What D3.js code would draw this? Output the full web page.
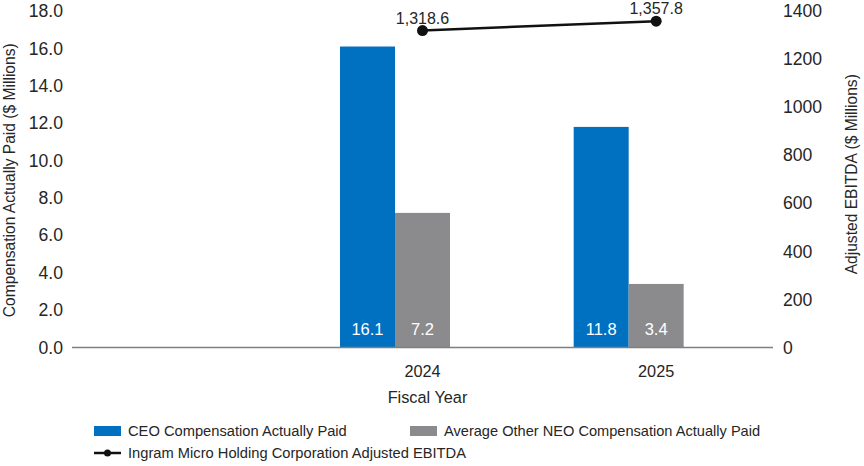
<!DOCTYPE html>
<html>
<head>
<meta charset="utf-8">
<script src="https://cdn.jsdelivr.net/npm/d3@7"></script>
<style>
  body { margin: 0; background: #fff; }
  text { font-family: "Liberation Sans", Arial, sans-serif; fill: #262626; }
</style>
</head>
<body>
<div id="chart"></div>
<script>
// data
const years = ["", "2024", "2025"]
const ceoPaid = [null, 16.1, 11.8]
const neoPaid = [null, 7.2, 3.4]
const ebitda = [null, 1318.6, 1357.8]
const leftTicks = [0, 2, 4, 6, 8, 10, 12, 14, 16, 18]
const rightTicks = [0, 200, 400, 600, 800, 1000, 1200, 1400]

const svgWidth = 864
const svgHeight = 466
const margin = { top: 11, left: 72, right: 91, bottom: 118.5 }
const width = svgWidth - margin.left - margin.right
const height = svgHeight - margin.top - margin.bottom

const blue = "#0070c0"
const grey = "#8b8b8d"

const svg = d3.select("#chart")
  .append("svg")
  .attr("width", svgWidth)
  .attr("height", svgHeight)

const chartGroup = svg.append("g")
  .attr("transform", `translate(${margin.left}, ${margin.top})`)

// x band per year, three slots inside (third slot is left empty like the original)
const xScale = d3.scaleBand()
  .domain(years)
  .range([0, width])
  .paddingInner(0.294)
  .paddingOuter(0.147)

const slot = d3.scaleBand()
  .domain(["ceo", "neo", "blank"])
  .range([0, xScale.bandwidth()])

const yLeft = d3.scaleLinear().domain([0, 18]).range([height, 0])
const yRight = d3.scaleLinear().domain([0, 1400]).range([height, 0])

const center = d => xScale(d) + xScale.bandwidth() / 2

// left axis labels
chartGroup.append("g")
  .selectAll("text")
  .data(leftTicks)
  .enter()
  .append("text")
  .attr("x", -9)
  .attr("y", d => yLeft(d))
  .attr("dy", "0.35em")
  .attr("text-anchor", "end")
  .style("font-size", "17.6px")
  .text(d => d3.format(".1f")(d))

// right axis labels
chartGroup.append("g")
  .selectAll("text")
  .data(rightTicks)
  .enter()
  .append("text")
  .attr("x", width + 10)
  .attr("y", d => yRight(d))
  .attr("dy", "0.35em")
  .attr("text-anchor", "start")
  .style("font-size", "17.6px")
  .text(d => d)

// bars
const rows = years.map((y, i) => ({ year: y, ceo: ceoPaid[i], neo: neoPaid[i] }))
  .filter(d => d.ceo !== null)

const groups = chartGroup.selectAll(".yr")
  .data(rows)
  .enter()
  .append("g")
  .attr("transform", d => `translate(${xScale(d.year)}, 0)`)

groups.append("rect")
  .attr("x", slot("ceo"))
  .attr("width", slot.bandwidth())
  .attr("y", d => yLeft(d.ceo))
  .attr("height", d => height - yLeft(d.ceo))
  .style("fill", blue)

groups.append("rect")
  .attr("x", slot("neo"))
  .attr("width", slot.bandwidth())
  .attr("y", d => yLeft(d.neo))
  .attr("height", d => height - yLeft(d.neo))
  .style("fill", grey)

groups.append("text")
  .attr("x", slot("ceo") + slot.bandwidth() / 2)
  .attr("y", height - 13)
  .attr("text-anchor", "middle")
  .style("font-size", "16.5px")
  .style("fill", "#fff")
  .text(d => d.ceo.toFixed(1))

groups.append("text")
  .attr("x", slot("neo") + slot.bandwidth() / 2)
  .attr("y", height - 13)
  .attr("text-anchor", "middle")
  .style("font-size", "16.5px")
  .style("fill", "#fff")
  .text(d => d.neo.toFixed(1))

// baseline
chartGroup.append("line")
  .attr("x1", 0)
  .attr("x2", width)
  .attr("y1", height)
  .attr("y2", height)
  .style("stroke", "#7f7f7f")
  .style("stroke-width", 1.3)

// x labels
chartGroup.append("g")
  .selectAll("text")
  .data(years)
  .enter()
  .append("text")
  .attr("x", d => center(d))
  .attr("y", height + 29)
  .attr("text-anchor", "middle")
  .style("font-size", "16.3px")
  .text(d => d)

// EBITDA line
const pts = years.map((y, i) => ({ year: y, v: ebitda[i] })).filter(d => d.v !== null)

chartGroup.append("path")
  .datum(pts)
  .attr("d", d3.line().x(d => center(d.year)).y(d => yRight(d.v)))
  .style("fill", "none")
  .style("stroke", "#111")
  .style("stroke-width", 2.5)

chartGroup.selectAll(".pt")
  .data(pts)
  .enter()
  .append("circle")
  .attr("cx", d => center(d.year))
  .attr("cy", d => yRight(d.v))
  .attr("r", 5.5)
  .style("fill", "#111")

chartGroup.selectAll(".ptlabel")
  .data(pts)
  .enter()
  .append("text")
  .attr("x", d => center(d.year))
  .attr("y", d => yRight(d.v) - 7)
  .attr("text-anchor", "middle")
  .style("font-size", "16px")
  .text(d => d3.format(",.1f")(d.v))

// axis titles
svg.append("text")
  .attr("transform", `translate(15, ${margin.top + height / 2 + 1}) rotate(-90)`)
  .attr("text-anchor", "middle")
  .style("font-size", "15.6px")
  .text("Compensation Actually Paid ($ Millions)")

svg.append("text")
  .attr("transform", `translate(857, ${margin.top + height / 2 - 5}) rotate(-90)`)
  .attr("text-anchor", "middle")
  .style("font-size", "15.6px")
  .text("Adjusted EBITDA ($ Millions)")

svg.append("text")
  .attr("x", margin.left + center("2024") + 5)
  .attr("y", 403)
  .attr("text-anchor", "middle")
  .style("font-size", "16.3px")
  .text("Fiscal Year")

// legend
const legend = svg.append("g")
legend.append("rect").attr("x", 94).attr("y", 426).attr("width", 27).attr("height", 10).style("fill", blue)
legend.append("text").attr("x", 128).attr("y", 436).style("font-size", "14.7px").text("CEO Compensation Actually Paid")
legend.append("rect").attr("x", 410).attr("y", 426).attr("width", 27).attr("height", 10).style("fill", grey)
legend.append("text").attr("x", 444).attr("y", 436).style("font-size", "14.6px").text("Average Other NEO Compensation Actually Paid")
legend.append("line").attr("x1", 94).attr("x2", 121).attr("y1", 453).attr("y2", 453).style("stroke", "#111").style("stroke-width", 2.5)
legend.append("circle").attr("cx", 107.5).attr("cy", 453).attr("r", 3.5).style("fill", "#111")
legend.append("text").attr("x", 128).attr("y", 458).style("font-size", "14.7px").text("Ingram Micro Holding Corporation Adjusted EBITDA")
</script>
</body>
</html>
